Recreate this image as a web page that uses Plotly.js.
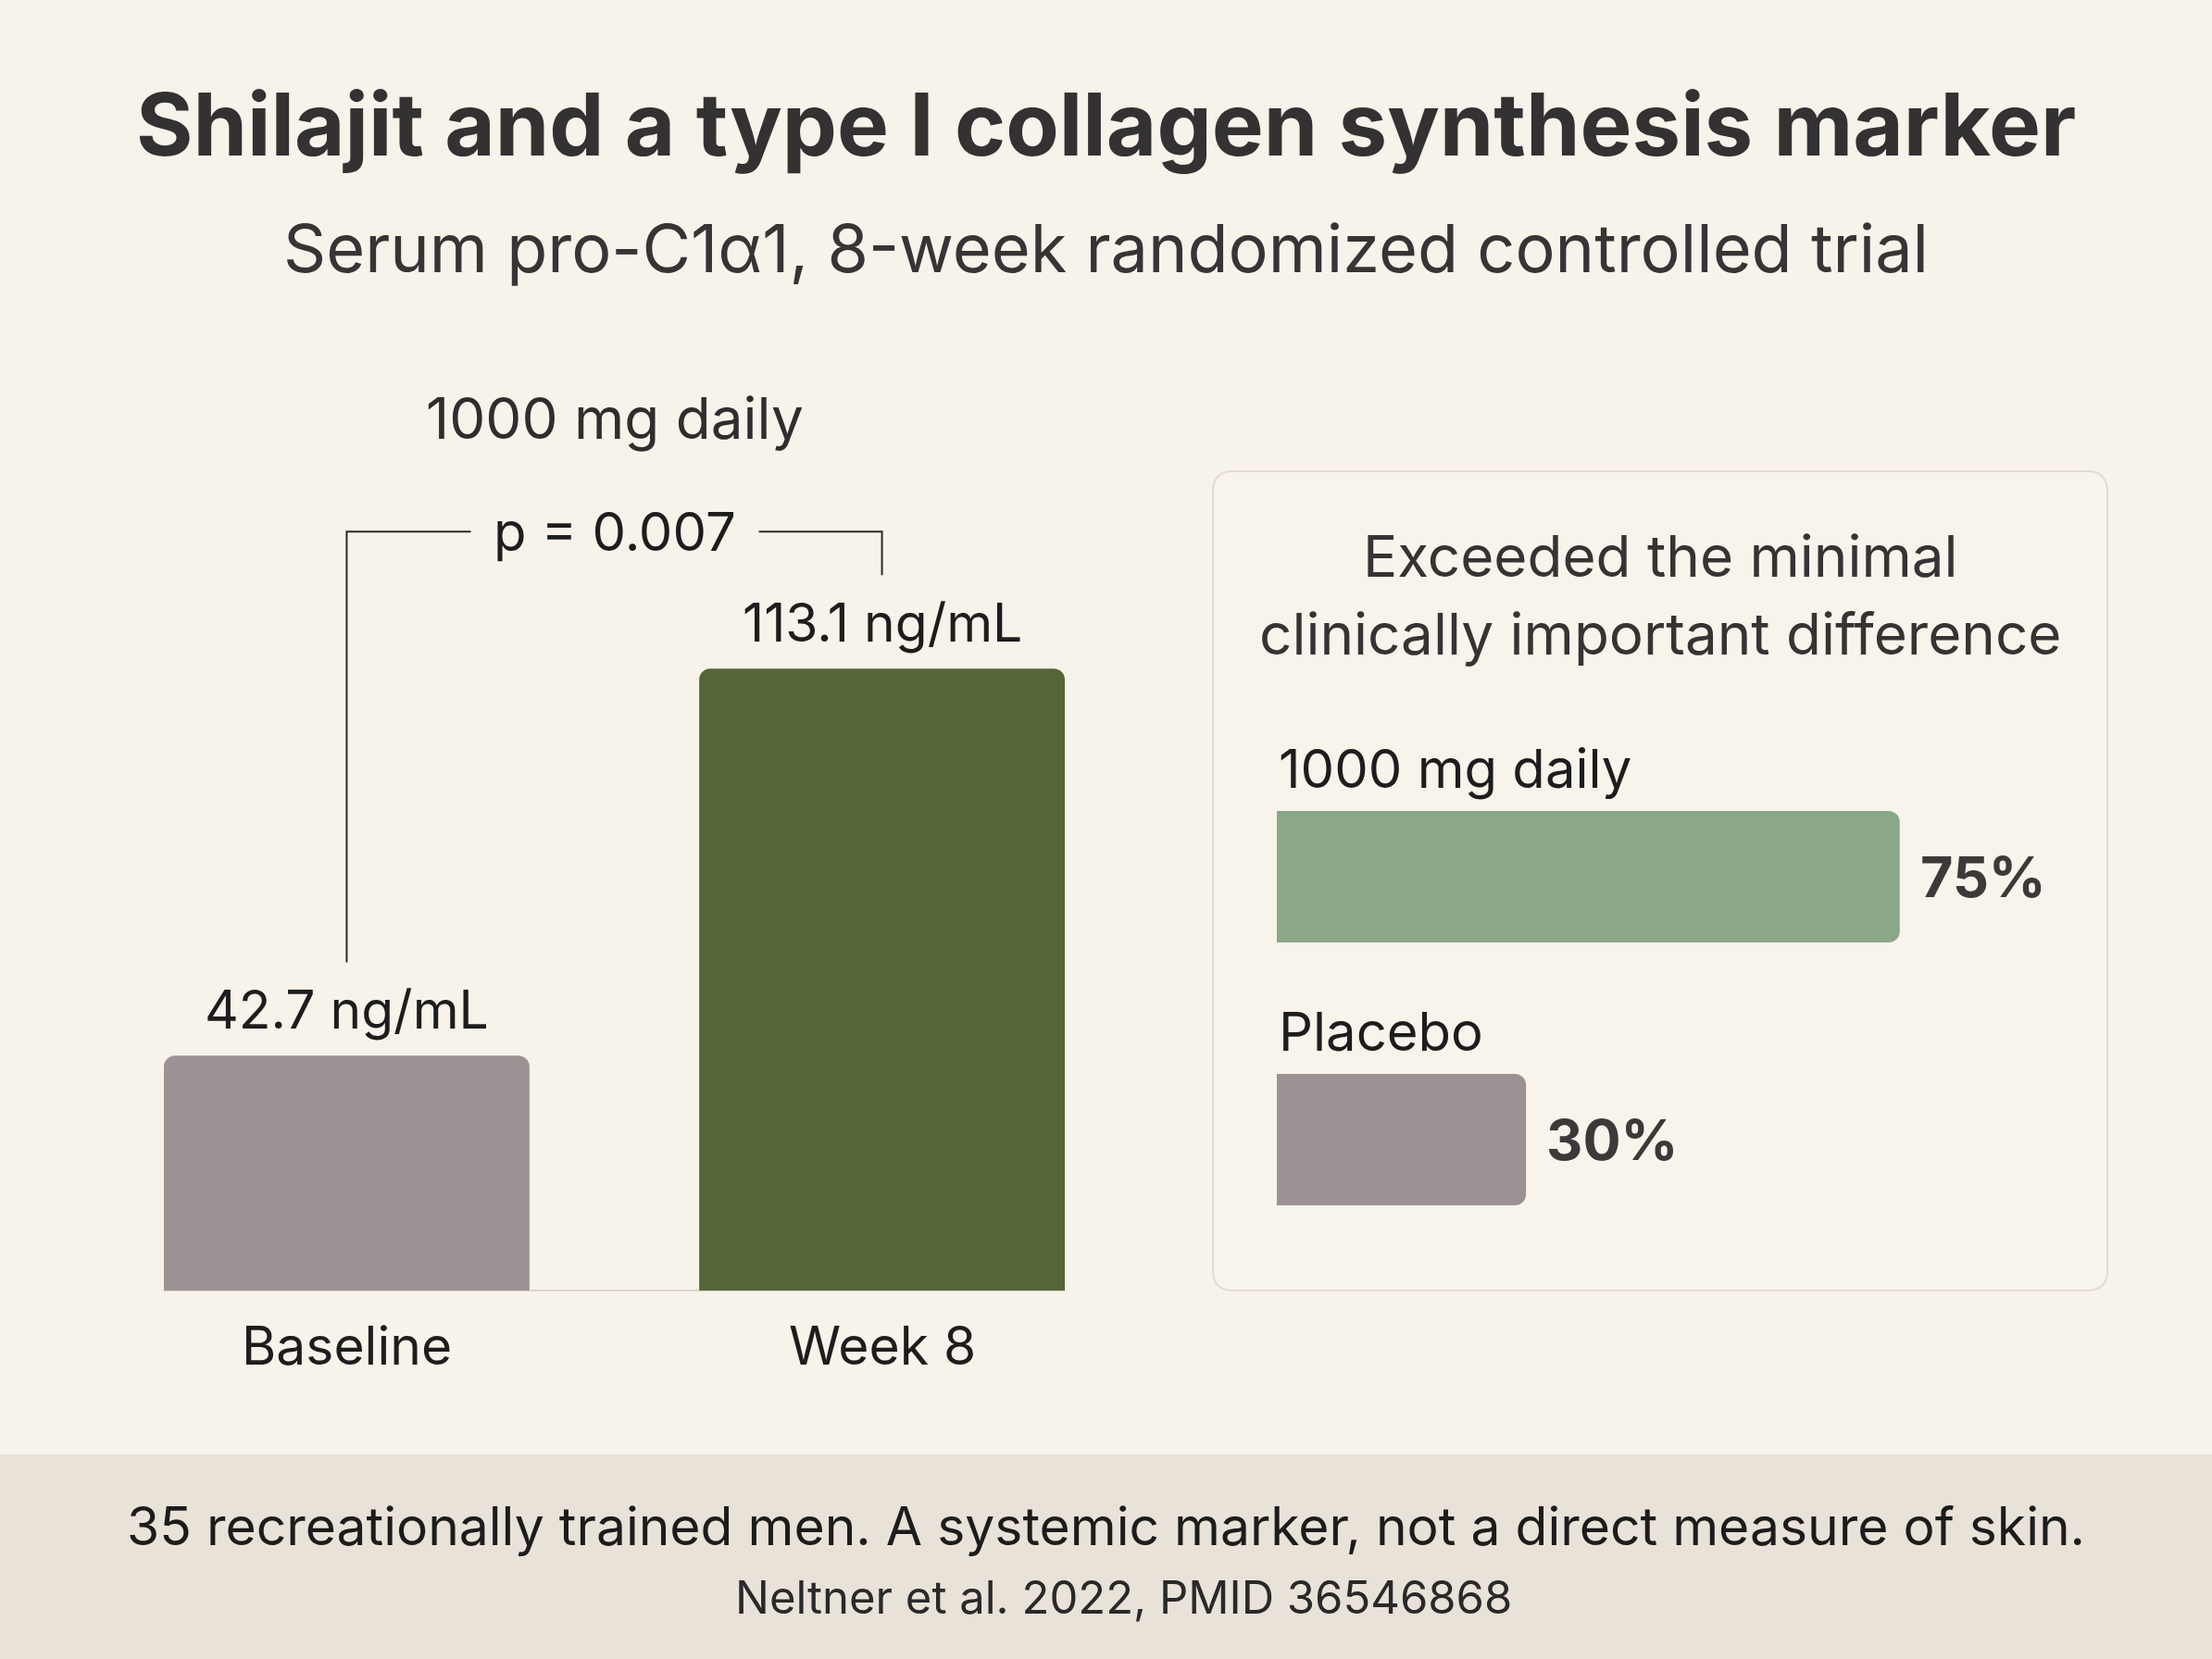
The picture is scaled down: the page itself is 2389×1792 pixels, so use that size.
<!DOCTYPE html>
<html>
<head>
<meta charset="utf-8">
<script src="https://cdn.plot.ly/plotly-3.0.1.min.js"></script>
<style>
  html, body { margin: 0; padding: 0; background: #f7f2ea; }
  #chart { width: 2389px; height: 1792px; }
</style>
</head>
<body>
<div id="chart"></div>
<script>
// ---- data ----
const timepoints = ["Baseline", "Week 8"];
const procValues = [42.7, 113.1];             // serum pro-C1α1, ng/mL
const timepointColors = ["#9b9393", "#546538"];

const groups = ["1000 mg daily", "Placebo"];
const mcidPct = [75, 30];                      // % exceeding MCID
const groupColors = ["#8aa888", "#9b9393"];

const pValue = "p = 0.007";

// ---- page geometry (pixels) ----
const W = 2389, H = 1792;
const FONT = "Inter, 'Open Sans', sans-serif";
const px = x => x / W;
const py = y => 1 - y / H;

// rounded rect path in paper coords, built from pixel corners
function roundedRect(x0, y0, x1, y1, r) {
  const P = (x, y) => `${px(x)},${py(y)}`;
  return `M${P(x0 + r, y0)} L${P(x1 - r, y0)} Q${P(x1, y0)} ${P(x1, y0 + r)} ` +
         `L${P(x1, y1 - r)} Q${P(x1, y1)} ${P(x1 - r, y1)} L${P(x0 + r, y1)} ` +
         `Q${P(x0, y1)} ${P(x0, y1 - r)} L${P(x0, y0 + r)} Q${P(x0, y0)} ${P(x0 + r, y0)} Z`;
}

const barWidth = 0.683;
const bracketTop = 138;
const bracketDrop = 17;

const data = [
  {
    type: "bar",
    x: timepoints,
    y: procValues,
    width: barWidth,
    marker: { color: timepointColors, cornerradius: 12, line: { width: 0 } },
    xaxis: "x", yaxis: "y",
    hoverinfo: "skip",
  },
  {
    type: "bar",
    orientation: "h",
    x: mcidPct,
    y: groups,
    width: 0.5,
    marker: { color: groupColors, cornerradius: 12, line: { width: 0 } },
    xaxis: "x2", yaxis: "y2",
    hoverinfo: "skip",
  },
];

const annotations = [
  // titles
  { xref: "paper", yref: "paper", x: 0.5, y: py(134), xanchor: "center", yanchor: "middle", showarrow: false,
    text: "<b>Shilajit and a type I collagen synthesis marker</b>",
    font: { family: FONT, size: 94, color: "#333131" } },
  { xref: "paper", yref: "paper", x: 0.5, y: py(267), xanchor: "center", yanchor: "middle", showarrow: false,
    text: "Serum pro-C1α1, 8-week randomized controlled trial",
    font: { family: FONT, size: 72, color: "#363434" } },
  // left chart header
  { xref: "x", yref: "paper", x: 0.5, y: py(451), xanchor: "center", yanchor: "middle", showarrow: false,
    text: "1000 mg daily", font: { family: FONT, size: 62, color: "#2f2d2d" } },
  { xref: "x", yref: "y", x: 0.5, y: bracketTop, xanchor: "center", yanchor: "middle", showarrow: false,
    text: pValue, font: { family: FONT, size: 58, color: "#1d1d1d" } },
  // footer
  { xref: "paper", yref: "paper", x: 0.5, y: py(1648), xanchor: "center", yanchor: "middle", showarrow: false,
    text: "35 recreationally trained men. A systemic marker, not a direct measure of skin.",
    font: { family: FONT, size: 57, color: "#1d1c1c" } },
  { xref: "paper", yref: "paper", x: 0.508, y: py(1725), xanchor: "center", yanchor: "middle", showarrow: false,
    text: "Neltner et al. 2022, PMID 36546868",
    font: { family: FONT, size: 49, color: "#2a2929" } },
  // panel title
  { xref: "paper", yref: "paper", x: px(1793), y: py(600), xanchor: "center", yanchor: "middle", showarrow: false,
    text: "Exceeded the minimal", font: { family: FONT, size: 62, color: "#363333" } },
  { xref: "paper", yref: "paper", x: px(1793), y: py(684), xanchor: "center", yanchor: "middle", showarrow: false,
    text: "clinically important difference", font: { family: FONT, size: 62, color: "#363333" } },
];

// value labels and category labels, left chart
timepoints.forEach((t, i) => {
  annotations.push({
    xref: "x", yref: "y", x: t, y: procValues[i], xanchor: "center", yanchor: "bottom", yshift: 13,
    showarrow: false, text: `${procValues[i].toFixed(1)} ng/mL`,
    font: { family: FONT, size: 57, color: "#1d1d1d" },
  });
  annotations.push({
    xref: "x", yref: "paper", x: t, y: py(1453), xanchor: "center", yanchor: "middle",
    showarrow: false, text: t,
    font: { family: FONT, size: 57, color: "#1d1d1d" },
  });
});

// group labels and percentages, right panel
groups.forEach((g, i) => {
  annotations.push({
    xref: "x2", yref: "y2", x: 0, y: g, xanchor: "left", yanchor: "middle", yshift: 117,
    showarrow: false, text: g,
    font: { family: FONT, size: 58, color: "#1d1d1d" },
  });
  annotations.push({
    xref: "x2", yref: "y2", x: mcidPct[i], y: g, xanchor: "left", yanchor: "middle", xshift: 20,
    showarrow: false, text: `<b>${mcidPct[i]}%</b>`,
    font: { family: FONT, size: 61, color: "#3d3939" },
  });
});

const shapes = [
  // footer band
  { type: "rect", xref: "paper", yref: "paper", x0: 0, x1: 1, y0: 0, y1: py(1571),
    fillcolor: "#e9e2d8", line: { width: 0 }, layer: "below" },
  // right panel card
  { type: "path", xref: "paper", yref: "paper", path: roundedRect(1310, 509, 2276, 1394, 22),
    fillcolor: "#f8f3eb", line: { color: "#e3dbd0", width: 2 }, layer: "below" },
  // significance bracket
  { type: "path", xref: "x", yref: "y", line: { color: "#2a2a2a", width: 2 },
    path: `M0,${procValues[0] + bracketDrop} L0,${bracketTop} L0.232,${bracketTop}` },
  { type: "path", xref: "x", yref: "y", line: { color: "#2a2a2a", width: 2 },
    path: `M0.77,${bracketTop} L1,${bracketTop} L1,${procValues[1] + bracketDrop}` },
];

// left chart: 0 at y=1394, ~5.94 px per ng/mL
const yMax = 150;
const yTopPx = 1394 - yMax * 5.94;

const layout = {
  width: W, height: H,
  margin: { l: 0, r: 0, t: 0, b: 0 },
  paper_bgcolor: "#f7f2ea",
  plot_bgcolor: "rgba(0,0,0,0)",
  showlegend: false,
  xaxis: {
    domain: [px(177), px(1150)],
    type: "category",
    range: [-barWidth / 2, 1 + barWidth / 2],
    showticklabels: false, showgrid: false, zeroline: false, showline: false, ticks: "",
  },
  yaxis: {
    domain: [py(1394), py(yTopPx)],
    range: [0, yMax],
    showticklabels: false, showgrid: false,
    zeroline: true, zerolinecolor: "#ddd6cc", zerolinewidth: 2,
    showline: false, ticks: "",
  },
  xaxis2: {
    domain: [px(1379), px(2276)],
    range: [0, 100],
    anchor: "y2",
    showticklabels: false, showgrid: false, zeroline: false, showline: false, ticks: "",
  },
  yaxis2: {
    domain: [py(1373), py(805)],
    type: "category",
    range: [1.5, -0.5],
    anchor: "x2",
    showticklabels: false, showgrid: false, zeroline: false, showline: false, ticks: "",
  },
  annotations,
  shapes,
};

Plotly.newPlot("chart", data, layout, { staticPlot: true, displayModeBar: false });
</script>
</body>
</html>
